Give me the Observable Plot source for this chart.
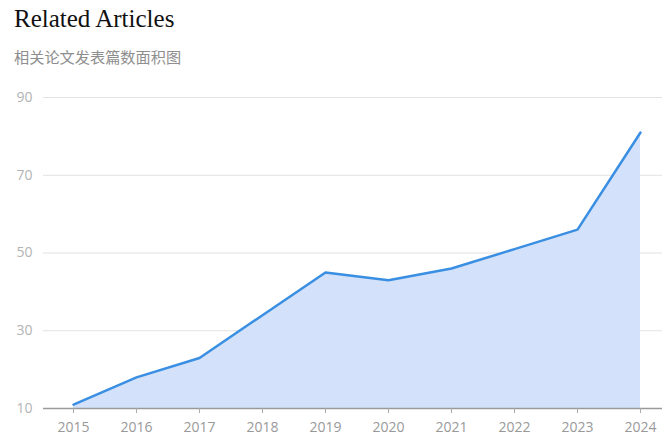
<!DOCTYPE html>
<html>
<head>
<meta charset="utf-8">
<script src="https://cdn.jsdelivr.net/npm/d3@7"></script>
<script src="https://cdn.jsdelivr.net/npm/@observablehq/plot@0.6"></script>
<style>
  html, body { margin: 0; padding: 0; background: #fff; }
  #wrap { position: relative; width: 662px; height: 436px; overflow: hidden; }
  #title { position: absolute; left: 14px; top: 4px; font-family: "Liberation Serif", serif; font-size: 25px; line-height: 30px; color: #111; white-space: nowrap; }
  #subtitle { position: absolute; left: 14px; top: 46px; font-family: "Noto Sans CJK SC", sans-serif; font-size: 15.2px; line-height: 20px; color: #8e8e8e; white-space: nowrap; }
  #chart { position: absolute; left: 0; top: 80px; }
</style>
</head>
<body>
<div id="wrap">
  <div id="title">Related Articles</div>
  <div id="subtitle">相关论文发表篇数面积图</div>
  <div id="chart"></div>
</div>
<script>
const years = [2015, 2016, 2017, 2018, 2019, 2020, 2021, 2022, 2023, 2024];
const counts = [11, 18, 23, 34, 45, 43, 46, 51, 56, 81];
const yTicks = [10, 30, 50, 70, 90];
const baseline = 10;

const data = years.map((year, i) => ({year, count: counts[i]}));

const chart = Plot.plot({
  width: 662,
  height: 356,
  marginLeft: 43,
  marginRight: 0,
  marginTop: 17,
  marginBottom: 28,
  style: {fontFamily: "'Open Sans', sans-serif", fontSize: "14px", background: "#fff"},
  x: {type: "linear", domain: [years[0], years[years.length - 1]], insetLeft: 30, insetRight: 22},
  y: {domain: [yTicks[0], yTicks[yTicks.length - 1]]},
  marks: [
    Plot.gridY(yTicks, {stroke: "#e2e2e2", strokeOpacity: 1, strokeWidth: 1.2}),
    Plot.areaY(data, {x: "year", y1: d => baseline, y2: "count", fill: "#d3e2fa"}),
    Plot.lineY(data, {x: "year", y: "count", stroke: "#3a8fe2", strokeWidth: 2.5}),
    Plot.ruleY([baseline], {stroke: "#9a9a9a", strokeWidth: 1.5}),
    Plot.axisX({ticks: years, tickFormat: d => String(d), tickSize: 5, tickPadding: 9, stroke: "#aaa", fill: "#999", label: null}),
    Plot.axisY({ticks: yTicks, tickSize: 0, tickPadding: 11, fill: "#b3b3b3", label: null})
  ]
});
document.getElementById("chart").appendChild(chart);
</script>
</body>
</html>
